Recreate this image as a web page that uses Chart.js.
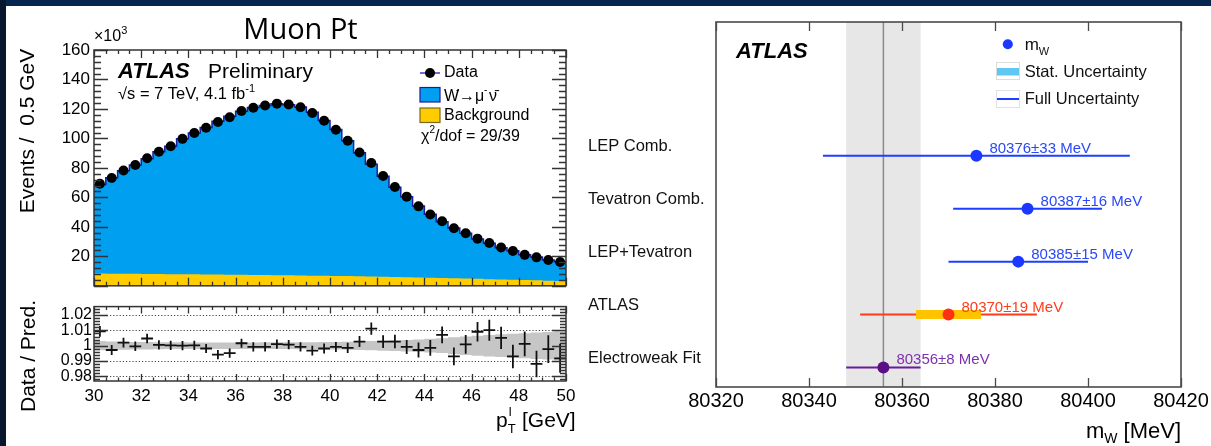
<!DOCTYPE html>
<html>
<head>
<meta charset="utf-8">
<title>Muon Pt / W mass</title>
<script src="https://cdn.jsdelivr.net/npm/chart.js@4.4.1/dist/chart.umd.min.js"></script>
<style>
  html, body { margin: 0; padding: 0; background: #fff; }
  body { width: 1211px; height: 446px; position: relative; overflow: hidden; }
  canvas { position: absolute; }
  #topPanel { left: 0; top: 0; }
  #ratioPanel { left: 0; top: 295px; }
  #massPanel { left: 580px; top: 0; }
  .edge-top { position: absolute; left: 0; top: 0; width: 1211px; height: 6px; background: #07264f; z-index: 5; }
  .edge-left { position: absolute; left: 0; top: 0; width: 6px; height: 446px; background: #06172e; z-index: 6; }
</style>
</head>
<body>
<div class="edge-top"></div>
<div class="edge-left"></div>
<canvas id="topPanel" width="600" height="300"></canvas>
<canvas id="ratioPanel" width="600" height="151"></canvas>
<canvas id="massPanel" width="631" height="446"></canvas>
<script>
// ---- muon pT spectrum (events in units of 10^3 per 0.5 GeV) ----
const ptMin = 30, ptMax = 50, binWidth = 0.5;
const ptTicks = [30, 32, 34, 36, 38, 40, 42, 44, 46, 48, 50];
const eventTicks = [20, 40, 60, 80, 100, 120, 140, 160];
const ratioTicks = [0.98, 0.99, 1, 1.01, 1.02];

const dataEvents = [69.3, 73.2, 78.2, 82.0, 86.6, 91.0, 94.7, 99.7, 103.7, 107.2,
  111.1, 114.4, 118.6, 120.8, 122.3, 123.6, 123.0, 121.2, 117.3, 112.0,
  105.9, 98.4, 90.5, 83.3, 74.5, 67.0, 60.5, 53.9, 48.4, 43.8,
  39.0, 35.7, 32.0, 29.1, 26.0, 23.6, 21.0, 19.3, 17.5, 16.2];
const predEvents = [68.7, 73.4, 78.0, 82.0, 86.2, 90.9, 94.7, 99.7, 103.7, 107.4,
  111.7, 115.0, 118.4, 120.9, 122.4, 123.5, 122.9, 121.3, 117.7, 112.2,
  106.0, 98.5, 90.3, 82.4, 74.3, 66.8, 60.5, 54.1, 48.5, 43.5,
  39.3, 35.7, 31.7, 28.8, 25.9, 23.8, 21.0, 19.5, 17.5, 16.3];
const bkgEvents = [8.3, 8.2, 8.2, 8.1, 8.0, 8.0, 7.9, 7.8, 7.8, 7.7,
  7.6, 7.5, 7.5, 7.4, 7.3, 7.2, 7.1, 7.0, 6.9, 6.8,
  6.7, 6.6, 6.4, 6.3, 6.1, 6.0, 5.8, 5.6, 5.5, 5.3,
  5.1, 4.9, 4.7, 4.5, 4.3, 4.1, 3.9, 3.7, 3.5, 3.3];

// data / prediction, its stat error and the prediction uncertainty band
const ratioValues = [1.0093, 0.9972, 1.0020, 0.9996, 1.0047, 1.0006, 1.0002, 1.0000, 1.0002, 0.9982,
  0.9942, 0.9952, 1.0016, 0.9992, 0.9992, 1.0010, 1.0007, 0.9992, 0.9968, 0.9982,
  0.9992, 0.9986, 1.0027, 1.0111, 1.0027, 1.0027, 0.9992, 0.9972, 0.9986, 1.0071,
  0.9930, 1.0009, 1.0091, 1.0101, 1.0051, 0.9930, 1.0012, 0.9881, 0.9978, 0.9918];
const ratioErrors = [0.0035, 0.0033, 0.0032, 0.0031, 0.0031, 0.0030, 0.0030, 0.0030, 0.0030, 0.0030,
  0.0030, 0.0030, 0.0030, 0.0030, 0.0030, 0.0030, 0.0030, 0.0030, 0.0031, 0.0032,
  0.0033, 0.0034, 0.0036, 0.0040, 0.0042, 0.0044, 0.0046, 0.0049, 0.0052, 0.0055,
  0.0058, 0.0061, 0.0064, 0.0068, 0.0072, 0.0077, 0.0081, 0.0086, 0.0090, 0.0095];
const predBand = [0.0030, 0.0028, 0.0026, 0.0025, 0.0024, 0.0023, 0.0022, 0.0022, 0.0021, 0.0021,
  0.0021, 0.0021, 0.0021, 0.0021, 0.0022, 0.0022, 0.0022, 0.0023, 0.0023, 0.0024,
  0.0025, 0.0026, 0.0028, 0.0030, 0.0032, 0.0035, 0.0038, 0.0041, 0.0045, 0.0048,
  0.0055, 0.0060, 0.0065, 0.0070, 0.0074, 0.0078, 0.0082, 0.0086, 0.0090, 0.0094];

// ---- W mass measurements ----
const experiments = ['LEP Comb.', 'Tevatron Comb.', 'LEP+Tevatron', 'ATLAS', 'Electroweak Fit'];
const massValues = [80376, 80387, 80385, 80370, 80356];
const totalErrors = [33, 16, 15, 19, 8];
const statErrors = [null, null, null, 7, null];
const massTicks = [80320, 80340, 80360, 80380, 80400, 80420];

const rowColors = ['#1f3fff', '#1f3fff', '#1f3fff', '#ff3b1a', '#6a1a9a'];
const pointColors = ['#1a38ff', '#1a38ff', '#1a38ff', '#ff3010', '#5a0e88'];
const labelColors = ['#2a48f5', '#2a48f5', '#2a48f5', '#ff3b1a', '#7c30b0'];

const FONT = '"Liberation Sans", Arial, sans-serif';

// ---------- helpers ----------
const nBins = dataEvents.length;
const ptEdges = Array.from({ length: nBins + 1 }, (_, i) => ptMin + i * binWidth);
const ptCenters = ptEdges.slice(0, nBins).map(e => e + binWidth / 2);
// point at each bin edge; with stepped 'before' the value at edge i is held up to edge i+1
const stepPoints = vals => ptEdges.map((x, i) => ({ x, y: vals[Math.min(i, vals.length - 1)] }));

function tickLoop(min, max, step, fn) {
  const i0 = Math.ceil(min / step - 1e-6), i1 = Math.floor(max / step + 1e-6);
  for (let i = i0; i <= i1; i++) fn(i * step, i);
}

// ROOT-like frame with ticks drawn inward on all four sides
const rootFrame = {
  id: 'rootFrame',
  afterDatasetsDraw(chart, args, o) {
    const { ctx, chartArea: a, scales: { x, y } } = chart;
    ctx.save();
    ctx.strokeStyle = o.color || '#333';
    ctx.lineWidth = 1.3;
    ctx.beginPath();
    if (o.xMinor) {
      tickLoop(x.min, x.max, o.xMinor, v => {
        const major = Math.abs(v / o.xMajor - Math.round(v / o.xMajor)) < 1e-6;
        const len = major ? o.xLong : o.xShort;
        const px = Math.round(x.getPixelForValue(v)) + 0.5;
        ctx.moveTo(px, a.bottom); ctx.lineTo(px, a.bottom - len);
        ctx.moveTo(px, a.top); ctx.lineTo(px, a.top + len);
      });
    }
    if (o.yMinor) {
      tickLoop(y.min, y.max, o.yMinor, v => {
        const major = Math.abs(v / o.yMajor - Math.round(v / o.yMajor)) < 1e-6;
        const len = major ? o.yLong : o.yShort;
        const py = Math.round(y.getPixelForValue(v)) + 0.5;
        ctx.moveTo(a.left, py); ctx.lineTo(a.left + len, py);
        ctx.moveTo(a.right, py); ctx.lineTo(a.right - len, py);
      });
    }
    ctx.stroke();
    ctx.lineWidth = o.frameWidth || 1.5;
    ctx.strokeRect(a.left, a.top, a.width, a.height);
    ctx.restore();
  }
};

function text(ctx, str, x, y, font, color, align, base) {
  ctx.font = font;
  ctx.fillStyle = color || '#000';
  ctx.textAlign = align || 'left';
  ctx.textBaseline = base || 'alphabetic';
  ctx.fillText(str, x, y);
  return ctx.measureText(str).width;
}

// ---------- top panel: spectrum ----------
const topLabels = {
  id: 'topLabels',
  afterDraw(chart) {
    const ctx = chart.ctx;
    ctx.save();
    text(ctx, 'Muon Pt', 300.5, 38.5, '29px "Open Sans", sans-serif', '#000', 'center');
    let w = text(ctx, '\u00d710', 94, 41, `16px ${FONT}`, '#000');
    text(ctx, '3', 94 + w, 34, `11px ${FONT}`, '#000');

    ctx.save();
    ctx.translate(34, 131);
    ctx.rotate(-Math.PI / 2);
    text(ctx, 'Events /  0.5 GeV', 0, 0, `21px ${FONT}`, '#000', 'center');
    ctx.restore();

    text(ctx, 'ATLAS', 118, 77.5, `italic bold 22px ${FONT}`, '#000');
    text(ctx, 'Preliminary', 208, 77.5, `21px ${FONT}`, '#000');
    w = text(ctx, '\u221as = 7 TeV, 4.1 fb', 118, 99, `16.5px ${FONT}`, '#000');
    text(ctx, '-1', 118 + w, 92, `11px ${FONT}`, '#000');

    // legend
    ctx.strokeStyle = '#3a3ad0';
    ctx.lineWidth = 1.5;
    ctx.beginPath(); ctx.moveTo(420, 73); ctx.lineTo(440, 73); ctx.stroke();
    ctx.fillStyle = '#000';
    ctx.beginPath(); ctx.arc(430, 73, 5, 0, Math.PI * 2); ctx.fill();
    text(ctx, 'Data', 444, 73, `16px ${FONT}`, '#000', 'left', 'middle');

    ctx.fillStyle = '#009ff0'; ctx.fillRect(420, 87.5, 20, 14.5);
    ctx.strokeStyle = '#1c1c9c'; ctx.lineWidth = 1.2; ctx.strokeRect(420, 87.5, 20, 14.5);
    text(ctx, 'W', 444, 101, `16px ${FONT}`, '#000');
    text(ctx, '-', 456, 93, `10px ${FONT}`, '#000');
    text(ctx, '\u2192', 459, 101, `16px ${FONT}`, '#000');
    text(ctx, '\u03bc', 475, 101, `16px ${FONT}`, '#000');
    text(ctx, '-', 484, 93, `10px ${FONT}`, '#000');
    text(ctx, '\u03bd\u0304', 489, 101, `16px ${FONT}`, '#000');

    ctx.fillStyle = '#ffcc00'; ctx.fillRect(420, 108, 20, 14.5);
    ctx.strokeStyle = '#7a6a20'; ctx.strokeRect(420, 108, 20, 14.5);
    text(ctx, 'Background', 444, 115.5, `16px ${FONT}`, '#000', 'left', 'middle');

    w = text(ctx, '\u03c7', 421, 141, `16px ${FONT}`, '#000');
    const w2 = text(ctx, '2', 421 + w, 133, `10px ${FONT}`, '#000');
    text(ctx, '/dof = 29/39', 421 + w + w2, 141, `16px ${FONT}`, '#000');
    ctx.restore();
  }
};

new Chart(document.getElementById('topPanel'), {
  type: 'line',
  data: {
    datasets: [
      {
        type: 'scatter', label: 'Data', order: 0,
        data: ptCenters.map((x, i) => ({ x, y: dataEvents[i] })),
        pointRadius: 5, pointBackgroundColor: '#000', pointBorderWidth: 0
      },
      {
        label: 'Background', order: 1, data: stepPoints(bkgEvents),
        stepped: 'before', fill: 'origin', backgroundColor: '#ffcc00',
        borderColor: '#ffcc00', borderWidth: 0, pointRadius: 0
      },
      {
        label: 'W', order: 2, data: stepPoints(predEvents),
        stepped: 'before', fill: 'origin', backgroundColor: '#009ff0',
        borderColor: '#1c1c9c', borderWidth: 1.5, pointRadius: 0
      }
    ]
  },
  options: {
    responsive: false, animation: false, devicePixelRatio: 1,
    layout: { padding: { left: 0, right: 34, top: 50, bottom: 6.4 } },
    plugins: {
      legend: { display: false }, tooltip: { enabled: false },
      rootFrame: { xMinor: 0.5, xMajor: 2, xLong: 8, xShort: 4, yMinor: 4, yMajor: 20, yLong: 14, yShort: 7 }
    },
    scales: {
      x: { type: 'linear', min: ptMin, max: ptMax, display: false },
      y: {
        min: 0, max: 160,
        afterBuildTicks: s => { s.ticks = eventTicks.map(v => ({ value: v })); },
        afterFit: s => { s.width = 94; },
        grid: { display: false, drawTicks: false }, border: { display: false },
        ticks: { autoSkip: false, padding: 4, color: '#000', font: { family: FONT, size: 17 }, callback: v => String(v) }
      }
    }
  },
  plugins: [rootFrame, topLabels]
});

// ---------- ratio panel ----------
const hSegments = [], vSegments = [];
ratioValues.forEach((r, i) => {
  const c = ptCenters[i], e = ratioErrors[i];
  hSegments.push({ x: c - binWidth / 2, y: r }, { x: c + binWidth / 2, y: r }, { x: c + binWidth / 2, y: null });
  vSegments.push({ x: c, y: r - e }, { x: c, y: r + e }, { x: c, y: null });
});

const ratioLabels = {
  id: 'ratioLabels',
  beforeDatasetsDraw(chart) {
    // dotted reference lines
    const { ctx, chartArea: a, scales: { y } } = chart;
    ctx.save();
    ctx.strokeStyle = '#444';
    ctx.lineWidth = 1;
    ctx.setLineDash([1.2, 2]);
    ratioTicks.forEach(v => {
      const py = Math.round(y.getPixelForValue(v)) + 0.5;
      ctx.beginPath(); ctx.moveTo(a.left, py); ctx.lineTo(a.right, py); ctx.stroke();
    });
    ctx.restore();
  },
  afterDraw(chart) {
    const ctx = chart.ctx;
    ctx.save();
    ctx.translate(35, 61);
    ctx.rotate(-Math.PI / 2);
    text(ctx, 'Data / Pred.', 0, 0, `21px ${FONT}`, '#000', 'center');
    ctx.restore();
    ctx.save();
    let x = 496;
    x += text(ctx, 'p', x, 132, `21px ${FONT}`, '#000');
    text(ctx, 'T', x, 138, `13px ${FONT}`, '#000');
    text(ctx, 'l', x + 1, 121, `13px ${FONT}`, '#000');
    text(ctx, ' [GeV]', x + 8.5, 132, `21px ${FONT}`, '#000');
    ctx.restore();
  }
};

new Chart(document.getElementById('ratioPanel'), {
  type: 'line',
  data: {
    datasets: [
      {
        label: 'h', order: 0, data: hSegments, spanGaps: false,
        borderColor: '#111', borderWidth: 1.8, pointRadius: 0
      },
      {
        label: 'v', order: 0, data: vSegments, spanGaps: false,
        borderColor: '#111', borderWidth: 1.8, pointRadius: 0
      },
      {
        label: 'band-hi', order: 1, data: stepPoints(predBand.map(b => 1 + b)),
        stepped: 'before', fill: '+1', backgroundColor: '#c6c6c6', borderWidth: 0, pointRadius: 0
      },
      {
        label: 'band-lo', order: 2, data: stepPoints(predBand.map(b => 1 - b)),
        stepped: 'before', fill: false, borderWidth: 0, pointRadius: 0
      }
    ]
  },
  options: {
    responsive: false, animation: false, devicePixelRatio: 1,
    layout: { padding: { left: 0, right: 34, top: 6, bottom: 0 } },
    plugins: {
      legend: { display: false }, tooltip: { enabled: false },
      rootFrame: { xMinor: 0.5, xMajor: 2, xLong: 7, xShort: 3.5, yMinor: 0.002, yMajor: 0.01, yLong: 14, yShort: 6 }
    },
    scales: {
      x: {
        type: 'linear', min: ptMin, max: ptMax,
        afterBuildTicks: s => { s.ticks = ptTicks.map(v => ({ value: v })); },
        afterFit: s => { s.height = 65; },
        grid: { display: false, drawTicks: false }, border: { display: false },
        ticks: { autoSkip: false, padding: 5, maxRotation: 0, color: '#000', font: { family: FONT, size: 17 }, callback: v => String(v) }
      },
      y: {
        min: 0.977, max: 1.0255,
        afterBuildTicks: s => { s.ticks = ratioTicks.map(v => ({ value: v })); },
        afterFit: s => { s.width = 94; },
        grid: { display: false, drawTicks: false }, border: { display: false },
        ticks: { autoSkip: false, padding: 2, color: '#000', font: { family: FONT, size: 16 }, callback: v => String(+v.toFixed(2)) }
      }
    }
  },
  plugins: [rootFrame, ratioLabels]
});

// ---------- W mass comparison ----------
const rowOf = i => experiments.length - i;
const ewIndex = experiments.indexOf('Electroweak Fit');

const massDecor = {
  id: 'massDecor',
  beforeDatasetsDraw(chart) {
    const { ctx, chartArea: a, scales: { x } } = chart;
    const m = massValues[ewIndex], e = totalErrors[ewIndex];
    const x0 = x.getPixelForValue(m - e), x1 = x.getPixelForValue(m + e);
    ctx.save();
    ctx.fillStyle = '#e7e7e7';
    ctx.fillRect(x0, a.top, x1 - x0, a.height);
    ctx.strokeStyle = '#8a8a8a';
    ctx.lineWidth = 1.5;
    const xm = x.getPixelForValue(m);
    ctx.beginPath(); ctx.moveTo(xm, a.top); ctx.lineTo(xm, a.bottom); ctx.stroke();
    ctx.restore();
  },
  afterDraw(chart) {
    const { ctx, scales: { x, y } } = chart;
    ctx.save();
    massValues.forEach((m, i) => {
      const label = `${m}\u00b1${totalErrors[i]} MeV`;
      text(ctx, label, x.getPixelForValue(m) + 13, y.getPixelForValue(rowOf(i)) - 3, `15px ${FONT}`, labelColors[i]);
    });

    text(ctx, 'ATLAS', 156, 57.5, `italic bold 22px ${FONT}`, '#000');

    // legend
    ctx.fillStyle = '#1a38ff';
    ctx.beginPath(); ctx.arc(427.8, 44.3, 5, 0, Math.PI * 2); ctx.fill();
    let w = text(ctx, 'm', 444.7, 50, `17px ${FONT}`, '#111');
    text(ctx, 'W', 444.7 + w, 55, `11px ${FONT}`, '#111');

    ctx.strokeStyle = '#dcdcdc'; ctx.lineWidth = 1;
    ctx.strokeRect(416.5, 62.5, 23, 17);
    ctx.fillStyle = '#5ec8f2'; ctx.fillRect(417, 68, 22, 7.5);
    text(ctx, 'Stat. Uncertainty', 444.7, 72, `16.5px ${FONT}`, '#111', 'left', 'middle');

    ctx.strokeStyle = '#e2e2e2';
    ctx.strokeRect(416.5, 90.5, 23, 17);
    ctx.strokeStyle = '#1f3fff'; ctx.lineWidth = 2;
    ctx.beginPath(); ctx.moveTo(417, 99); ctx.lineTo(439, 99); ctx.stroke();
    text(ctx, 'Full Uncertainty', 444.7, 99.5, `16.5px ${FONT}`, '#111', 'left', 'middle');

    // axis title
    const unit = ' [MeV]';
    ctx.font = `22px ${FONT}`;
    const wu = ctx.measureText(unit).width;
    ctx.font = `14px ${FONT}`;
    const ws = ctx.measureText('W').width;
    const xr = 601;
    text(ctx, unit, xr, 438, `22px ${FONT}`, '#000', 'right');
    text(ctx, 'W', xr - wu - ws, 443, `14px ${FONT}`, '#000');
    text(ctx, 'm', xr - wu - ws, 438, `22px ${FONT}`, '#000', 'right');
    ctx.restore();
  }
};

const massDatasets = [];
massDatasets.push({
  type: 'scatter', label: 'mW', order: 0,
  data: massValues.map((m, i) => ({ x: m, y: rowOf(i) })),
  pointRadius: 6, pointBackgroundColor: pointColors, pointBorderWidth: 0
});
statErrors.forEach((s, i) => {
  if (s == null) return;
  massDatasets.push({
    label: 'stat ' + experiments[i], order: 1,
    data: [{ x: massValues[i] - s, y: rowOf(i) }, { x: massValues[i] + s, y: rowOf(i) }],
    borderColor: '#ffc300', borderWidth: 9, borderCapStyle: 'butt', pointRadius: 0
  });
});
massValues.forEach((m, i) => {
  massDatasets.push({
    label: experiments[i], order: 2,
    data: [{ x: m - totalErrors[i], y: rowOf(i) }, { x: m + totalErrors[i], y: rowOf(i) }],
    borderColor: rowColors[i], borderWidth: 2, pointRadius: 0
  });
});

new Chart(document.getElementById('massPanel'), {
  type: 'line',
  data: { datasets: massDatasets },
  options: {
    responsive: false, animation: false, devicePixelRatio: 1,
    layout: { padding: { left: 8, right: 30, top: 22, bottom: 0 } },
    plugins: {
      legend: { display: false }, tooltip: { enabled: false },
      rootFrame: { xMinor: 20, xMajor: 20, xLong: 9, xShort: 9, color: '#4a4a4a', frameWidth: 1.6 }
    },
    scales: {
      x: {
        type: 'linear', min: massTicks[0], max: massTicks[massTicks.length - 1],
        afterBuildTicks: s => { s.ticks = massTicks.map(v => ({ value: v })); },
        afterFit: s => { s.height = 59; },
        grid: { display: false, drawTicks: false }, border: { display: false },
        ticks: { autoSkip: false, padding: 2, maxRotation: 0, color: '#000', font: { family: FONT, size: 20 }, callback: v => String(v) }
      },
      y: {
        type: 'linear', min: 0.63, max: 7.53,
        afterBuildTicks: s => { s.ticks = experiments.map((_, i) => ({ value: rowOf(i) })); },
        afterFit: s => { s.width = 128; },
        grid: { display: false, drawTicks: false }, border: { display: false },
        ticks: {
          autoSkip: false, crossAlign: 'far', labelOffset: -9, color: '#111',
          font: { family: FONT, size: 16.5 },
          callback: v => experiments[experiments.length - v] || ''
        }
      }
    }
  },
  plugins: [rootFrame, massDecor]
});
</script>
</body>
</html>
